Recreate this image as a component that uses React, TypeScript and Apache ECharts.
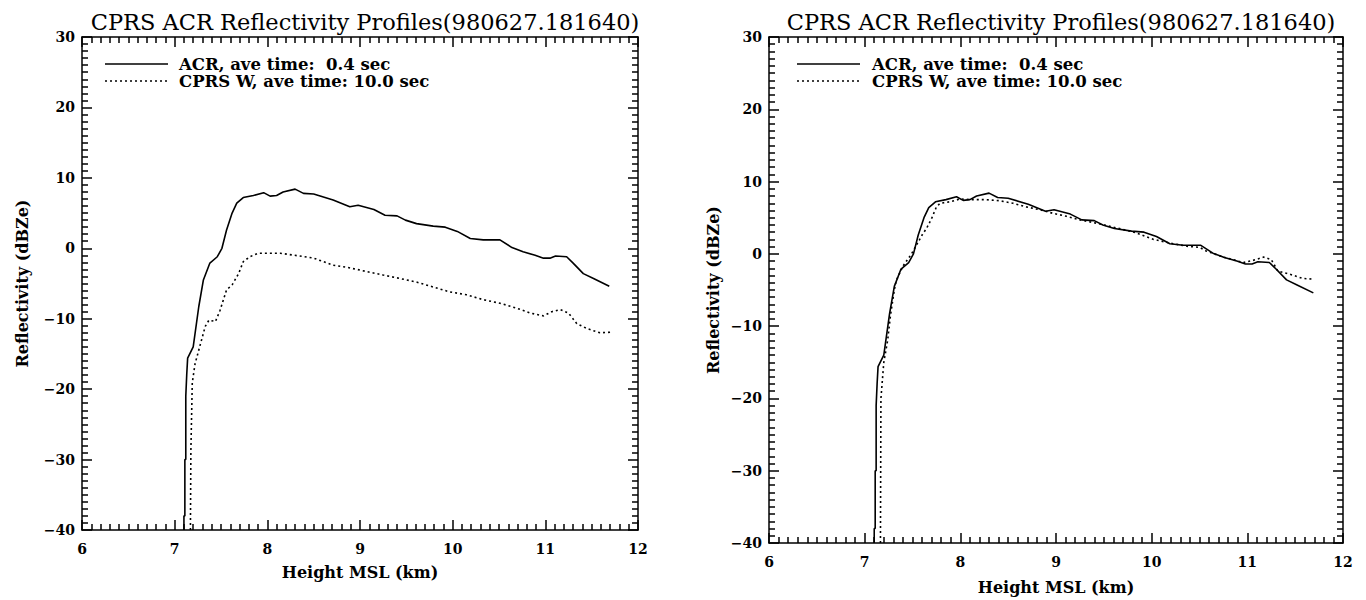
import React, { useEffect, useRef } from "react";
import * as echarts from "echarts";

// ---- Data (height km, reflectivity dBZe) ----
const titleText = "CPRS ACR Reflectivity Profiles(980627.181640)";
const xTicks = [6, 7, 8, 9, 10, 11, 12];
const yTicks = [-40, -30, -20, -10, 0, 10, 20, 30];

// ACR, ave time 0.4 sec (same in both panels)
const acrHeight = [
  7.1, 7.1, 7.11, 7.11, 7.12, 7.12, 7.13, 7.14, 7.2, 7.26, 7.31, 7.38, 7.46, 7.51, 7.56,
  7.62, 7.67, 7.74, 7.85, 7.96, 8.03, 8.1, 8.17, 8.3, 8.39, 8.5, 8.71, 8.89, 8.98, 9.15,
  9.27, 9.4, 9.49, 9.61, 9.79, 9.92, 10.05, 10.19, 10.33, 10.51, 10.64, 10.76, 10.89,
  10.98, 11.05, 11.11, 11.23, 11.3, 11.41, 11.52, 11.69,
];
const acrValue = [
  -40, -38, -38, -30, -30, -21, -18, -15.6, -14.0, -8.3, -4.5, -2.1, -1.2, 0.0, 2.6,
  5.0, 6.4, 7.2, 7.5, 7.9, 7.4, 7.5, 8.0, 8.4, 7.8, 7.7, 6.85, 5.9, 6.1, 5.5,
  4.7, 4.6, 4.0, 3.5, 3.15, 3.0, 2.4, 1.4, 1.2, 1.2, 0.1, -0.5, -1.0,
  -1.4, -1.4, -1.1, -1.2, -2.1, -3.6, -4.3, -5.4,
];

// CPRS W, ave time 10.0 sec (left panel)
const cprsHeight = [
  7.17, 7.175, 7.19, 7.22, 7.28, 7.33, 7.37, 7.44, 7.49, 7.56, 7.62, 7.69, 7.74, 7.81,
  7.9, 8.14, 8.35, 8.5, 8.71, 8.86, 9.07, 9.25, 9.4, 9.61, 9.79, 9.97, 10.15, 10.33,
  10.51, 10.69, 10.84, 10.98, 11.07, 11.16, 11.25, 11.34, 11.45, 11.59, 11.72,
];
const cprsValue = [
  -40, -28.7, -19.1, -16.4, -13.5, -11.1, -10.2, -10.4, -8.8, -5.9, -5.2, -3.6, -1.9, -1.2,
  -0.7, -0.7, -1.1, -1.4, -2.4, -2.7, -3.3, -3.8, -4.2, -4.8, -5.5, -6.2, -6.6, -7.3,
  -7.8, -8.5, -9.2, -9.6, -9.0, -8.7, -9.2, -10.7, -11.4, -12.0, -11.9,
];

// CPRS W, ave time 10.0 sec (right panel, shifted)
const cprsRightHeight = [
  7.165, 7.17, 7.2, 7.24, 7.27, 7.31, 7.33, 7.4, 7.49, 7.6, 7.65, 7.7, 7.75, 7.79, 7.89,
  8.0, 8.1, 8.27, 8.41, 8.55, 8.69, 8.83, 8.97, 9.11, 9.25, 9.42, 9.63, 9.84, 10.02,
  10.19, 10.37, 10.5, 10.57, 10.75, 10.96, 11.06, 11.17, 11.25, 11.32, 11.44, 11.58, 11.69,
];
const cprsRightValue = [
  -40, -20, -15, -12, -8.5, -5, -3.7, -1.7, 0.0, 2.6, 3.6, 4.9, 6.5, 7.0, 7.2,
  7.6, 7.5, 7.5, 7.35, 7.0, 6.5, 6.1, 5.6, 5.2, 4.7, 4.25, 3.6, 2.9, 2.0,
  1.5, 1.05, 0.9, 0.4, -0.45, -1.2, -0.9, -0.45, -0.8, -2.4, -2.8, -3.4, -3.5,
];

const legendSolid = "ACR, ave time:  0.4 sec";
const legendDotted = "CPRS W, ave time: 10.0 sec";
const xName = "Height MSL (km)";
const yName = "Reflectivity (dBZe)";

const pairs = (xs: number[], ys: number[]) => xs.map((x, i) => [x, ys[i]]);

const FONT = "DejaVu Serif";

const panels = [
  { left: 82, top: 37, width: 556, height: 493 },
  { left: 769, top: 37, width: 574, height: 511 },
];

export default function App() {
  const ref = useRef<HTMLDivElement>(null);
  useEffect(() => {
    if (!ref.current) return;
    const chart = echarts.init(ref.current, null, { renderer: "svg" });

    const majorCommon = {
      axisLine: { show: true, onZero: false, lineStyle: { color: "#000", width: 1.5 } },
      axisTick: { show: true, inside: true, length: 10, lineStyle: { color: "#000", width: 1.5 } },
      minorTick: { show: true, inside: true, splitNumber: 10, length: 6, lineStyle: { color: "#000", width: 1.5, opacity: 1 } },
      splitLine: { show: false },
      minorSplitLine: { show: false },
    };

    const xMin = xTicks[0];
    const xMax = xTicks[xTicks.length - 1];
    const yMin = yTicks[0];
    const yMax = yTicks[yTicks.length - 1];

    const xAxes: any[] = [];
    const yAxes: any[] = [];
    panels.forEach((g, gi) => {
      xAxes.push({
        type: "value", gridIndex: gi, min: xMin, max: xMax, interval: 1, position: "bottom",
        ...majorCommon,
        axisLabel: { show: true, color: "#000", fontFamily: FONT, fontWeight: "bold", fontSize: 14, margin: 12 },
        name: xName,
        nameLocation: "middle",
        nameGap: gi === 0 ? 34 : 36,
        nameTextStyle: { color: "#000", fontFamily: FONT, fontWeight: "bold", fontSize: 16 },
      });
      xAxes.push({
        type: "value", gridIndex: gi, min: xMin, max: xMax, interval: 1, position: "top",
        ...majorCommon, axisLabel: { show: false },
      });
      yAxes.push({
        type: "value", gridIndex: gi, min: yMin, max: yMax, interval: 10, position: "left",
        ...majorCommon,
        axisLabel: {
          show: true, color: "#000", fontFamily: FONT, fontWeight: "bold", fontSize: 14, margin: 7,
          formatter: (v: number) => (v < 0 ? "\u2212" + Math.abs(v) : String(v)),
        },
        name: yName,
        nameLocation: "middle",
        nameGap: gi === 0 ? 52 : 48,
        nameRotate: 90,
        nameTextStyle: { color: "#000", fontFamily: FONT, fontWeight: "bold", fontSize: 16 },
      });
      yAxes.push({
        type: "value", gridIndex: gi, min: yMin, max: yMax, interval: 10, position: "right",
        ...majorCommon, axisLabel: { show: false },
      });
    });

    const solidStyle = { color: "#000", width: 1.6, type: "solid" };
    const dotStyle = { color: "#000", width: 1.6, type: [2, 3] };

    const lineSeries: any[] = [
      { data: pairs(acrHeight, acrValue), xAxisIndex: 0, yAxisIndex: 0, lineStyle: solidStyle },
      { data: pairs(cprsHeight, cprsValue), xAxisIndex: 0, yAxisIndex: 0, lineStyle: dotStyle },
      { data: pairs(acrHeight, acrValue), xAxisIndex: 2, yAxisIndex: 2, lineStyle: solidStyle },
      { data: pairs(cprsRightHeight, cprsRightValue), xAxisIndex: 2, yAxisIndex: 2, lineStyle: dotStyle },
    ].map((s) => ({ type: "line", showSymbol: false, symbol: "none", clip: true, silent: true, ...s }));

    const legendGraphics: any[] = [];
    const legendPos = [
      { lx: 105, tx: 179 },
      { lx: 797, tx: 872 },
    ];
    legendPos.forEach((p) => {
      legendGraphics.push(
        { type: "line", shape: { x1: p.lx, y1: 64, x2: p.lx + 63, y2: 64 }, style: { stroke: "#000", lineWidth: 1.6 } },
        { type: "line", shape: { x1: p.lx, y1: 81, x2: p.lx + 63, y2: 81 }, style: { stroke: "#000", lineWidth: 1.6, lineDash: [2, 3] } },
        { type: "text", x: p.tx, y: 64, style: { text: legendSolid, fill: "#000", font: `bold 16.5px '${FONT}'`, verticalAlign: "middle", textAlign: "left" } },
        { type: "text", x: p.tx, y: 81, style: { text: legendDotted, fill: "#000", font: `bold 16.5px '${FONT}'`, verticalAlign: "middle", textAlign: "left" } }
      );
    });

    chart.setOption({
      animation: false,
      backgroundColor: "#fff",
      title: panels.map((g) => ({
        text: titleText,
        left: g.left + g.width / 2,
        top: 5,
        textAlign: "center",
        textStyle: { color: "#000", fontFamily: FONT, fontWeight: "normal", fontSize: 22.5 },
      })),
      grid: panels,
      xAxis: xAxes,
      yAxis: yAxes,
      series: lineSeries,
      graphic: legendGraphics,
    });
    return () => chart.dispose();
  }, []);
  return (
    <div
      ref={ref}
      style={{ position: "fixed", left: 0, top: 0, width: 1366, height: 600, background: "#fff" }}
    />
  );
}
